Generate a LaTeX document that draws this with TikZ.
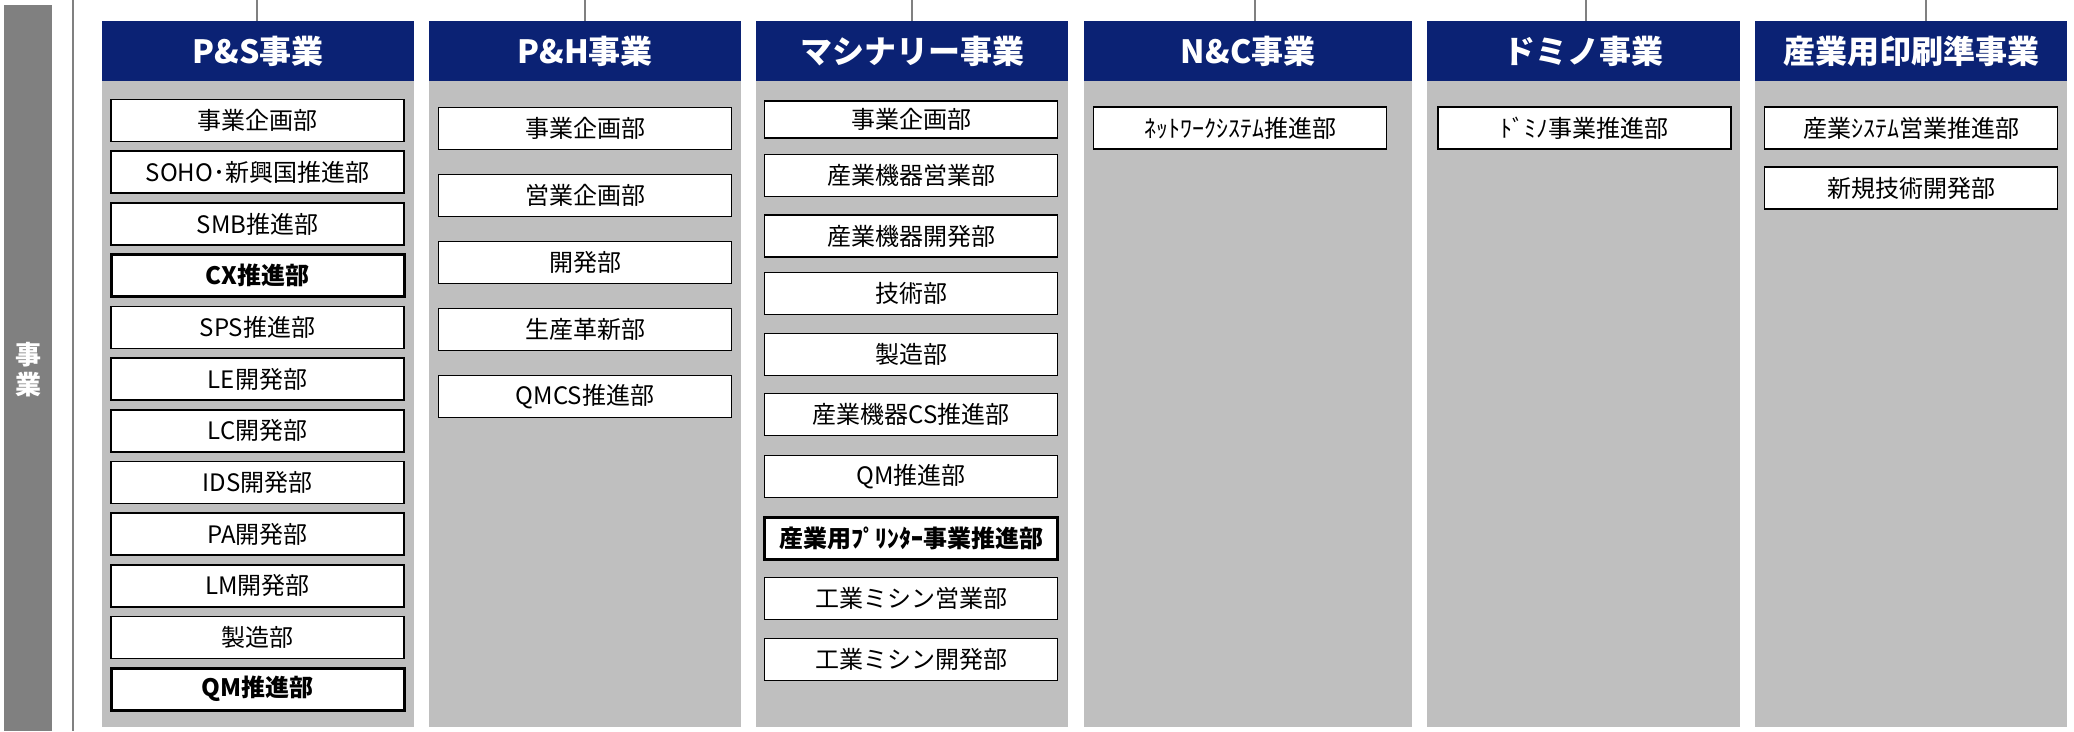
\documentclass[tikz,border=0pt]{standalone}
\usepackage{fontspec}
\setmainfont{Noto Sans CJK JP}
\usepackage{tikz}

\definecolor{navyhdr}{RGB}{11,34,116}
\definecolor{grisbody}{RGB}{191,191,191}
\definecolor{grisbar}{RGB}{128,128,128}

\tikzset{
  colhdr/.style={fill=navyhdr, text=white, font=\fontsize{32}{36}\selectfont\bfseries,
    minimum height=60pt, inner sep=0pt, anchor=north west},
  colbody/.style={fill=grisbody},
  dept/.style={draw=black, fill=white, line width=1.6pt, inner sep=0pt,
    minimum width=293pt, minimum height=42pt, font=\fontsize{24}{28}\selectfont},
  deptbold/.style={dept, line width=3pt, font=\fontsize{24}{28}\selectfont\bfseries},
  linkline/.style={draw=grisbar, line width=2pt}
}

\begin{document}
\begin{tikzpicture}[x=1pt, y=-1pt]
\useasboundingbox (0,0) rectangle (2074,731);

% Barra lateral
\fill[grisbar] (4,5) rectangle (52,731);
\node[text=white, font=\fontsize{26}{30}\selectfont\bfseries, align=center] (lado) at (28,370) {事\\業};
\draw[linkline] (73,0) -- (73,731);

% Cabeceras de columna
\node[colhdr, minimum width=312pt] (hdrPS) at (102,21) {P\&S事業};
\node[colhdr, minimum width=312pt] (hdrPH) at (429,21) {P\&H事業};
\node[colhdr, minimum width=312pt] (hdrMA) at (756,21) {マシナリー事業};
\node[colhdr, minimum width=328pt] (hdrNC) at (1084,21) {N\&C事業};
\node[colhdr, minimum width=313pt] (hdrDO) at (1427,21) {ドミノ事業};
\node[colhdr, minimum width=312pt] (hdrIN) at (1755,21) {産業用印刷準事業};

% Fondos grises
\fill[colbody] (hdrPS.south west) rectangle (414,727);
\fill[colbody] (hdrPH.south west) rectangle (741,727);
\fill[colbody] (hdrMA.south west) rectangle (1068,727);
\fill[colbody] (hdrNC.south west) rectangle (1412,727);
\fill[colbody] (hdrDO.south west) rectangle (1740,727);
\fill[colbody] (hdrIN.south west) rectangle (2067,727);

% Lineas superiores
\coordinate (tPS) at (257,0);
\coordinate (tPH) at (585,0);
\coordinate (tMA) at (912,0);
\coordinate (tNC) at (1255,0);
\coordinate (tDO) at (1586,0);
\coordinate (tIN) at (1926,0);
\draw[linkline] (tPS) -- (tPS |- hdrPS.north);
\draw[linkline] (tPH) -- (tPH |- hdrPH.north);
\draw[linkline] (tMA) -- (tMA |- hdrMA.north);
\draw[linkline] (tNC) -- (tNC |- hdrNC.north);
\draw[linkline] (tDO) -- (tDO |- hdrDO.north);
\draw[linkline] (tIN) -- (tIN |- hdrIN.north);

% P&S
\node[dept] (psA) at (257.5,120.5) {事業企画部};
\node[dept] (psB) at (257.5,172.2) {SOHO･新興国推進部};
\node[dept] (psC) at (257.5,223.9) {SMB推進部};
\node[deptbold] (psD) at (257.5,275.6) {CX推進部};
\node[dept] (psE) at (257.5,327.3) {SPS推進部};
\node[dept] (psF) at (257.5,379.0) {LE開発部};
\node[dept] (psG) at (257.5,430.7) {LC開発部};
\node[dept] (psH) at (257.5,482.4) {IDS開発部};
\node[dept] (psI) at (257.5,534.1) {PA開発部};
\node[dept] (psJ) at (257.5,585.8) {LM開発部};
\node[dept] (psK) at (257.5,637.5) {製造部};
\node[deptbold] (psL) at (257.5,689.2) {QM推進部};

% P&H
\node[dept] (phA) at (585,128.5) {事業企画部};
\node[dept] (phB) at (585,195.5) {営業企画部};
\node[dept] (phC) at (585,262.5) {開発部};
\node[dept] (phD) at (585,329.5) {生産革新部};
\node[dept] (phE) at (585,396.5) {QMCS推進部};

% Maquinaria
\node[dept, minimum height=37pt] (maA) at (911,119.5) {事業企画部};
\node[dept] (maB) at (911,175.5) {産業機器営業部};
\node[dept] (maC) at (911,236) {産業機器開発部};
\node[dept] (maD) at (911,293.5) {技術部};
\node[dept] (maE) at (911,354.5) {製造部};
\node[dept] (maF) at (911,414.5) {産業機器CS推進部};
\node[dept] (maG) at (911,476.5) {QM推進部};
\node[deptbold] (maH) at (911,538) {産業用ﾌﾟﾘﾝﾀｰ事業推進部};
\node[dept] (maI) at (911,598.5) {工業ミシン営業部};
\node[dept] (maJ) at (911,659.5) {工業ミシン開発部};

% N&C, Domino, Impresion
\node[dept] (ncA) at (1240,128) {ﾈｯﾄﾜｰｸｼｽﾃﾑ推進部};
\node[dept] (doA) at (1584.5,128) {ﾄﾞﾐﾉ事業推進部};
\node[dept] (inA) at (1911,128) {産業ｼｽﾃﾑ営業推進部};
\node[dept] (inB) at (1911,188) {新規技術開発部};

\end{tikzpicture}
\end{document}
